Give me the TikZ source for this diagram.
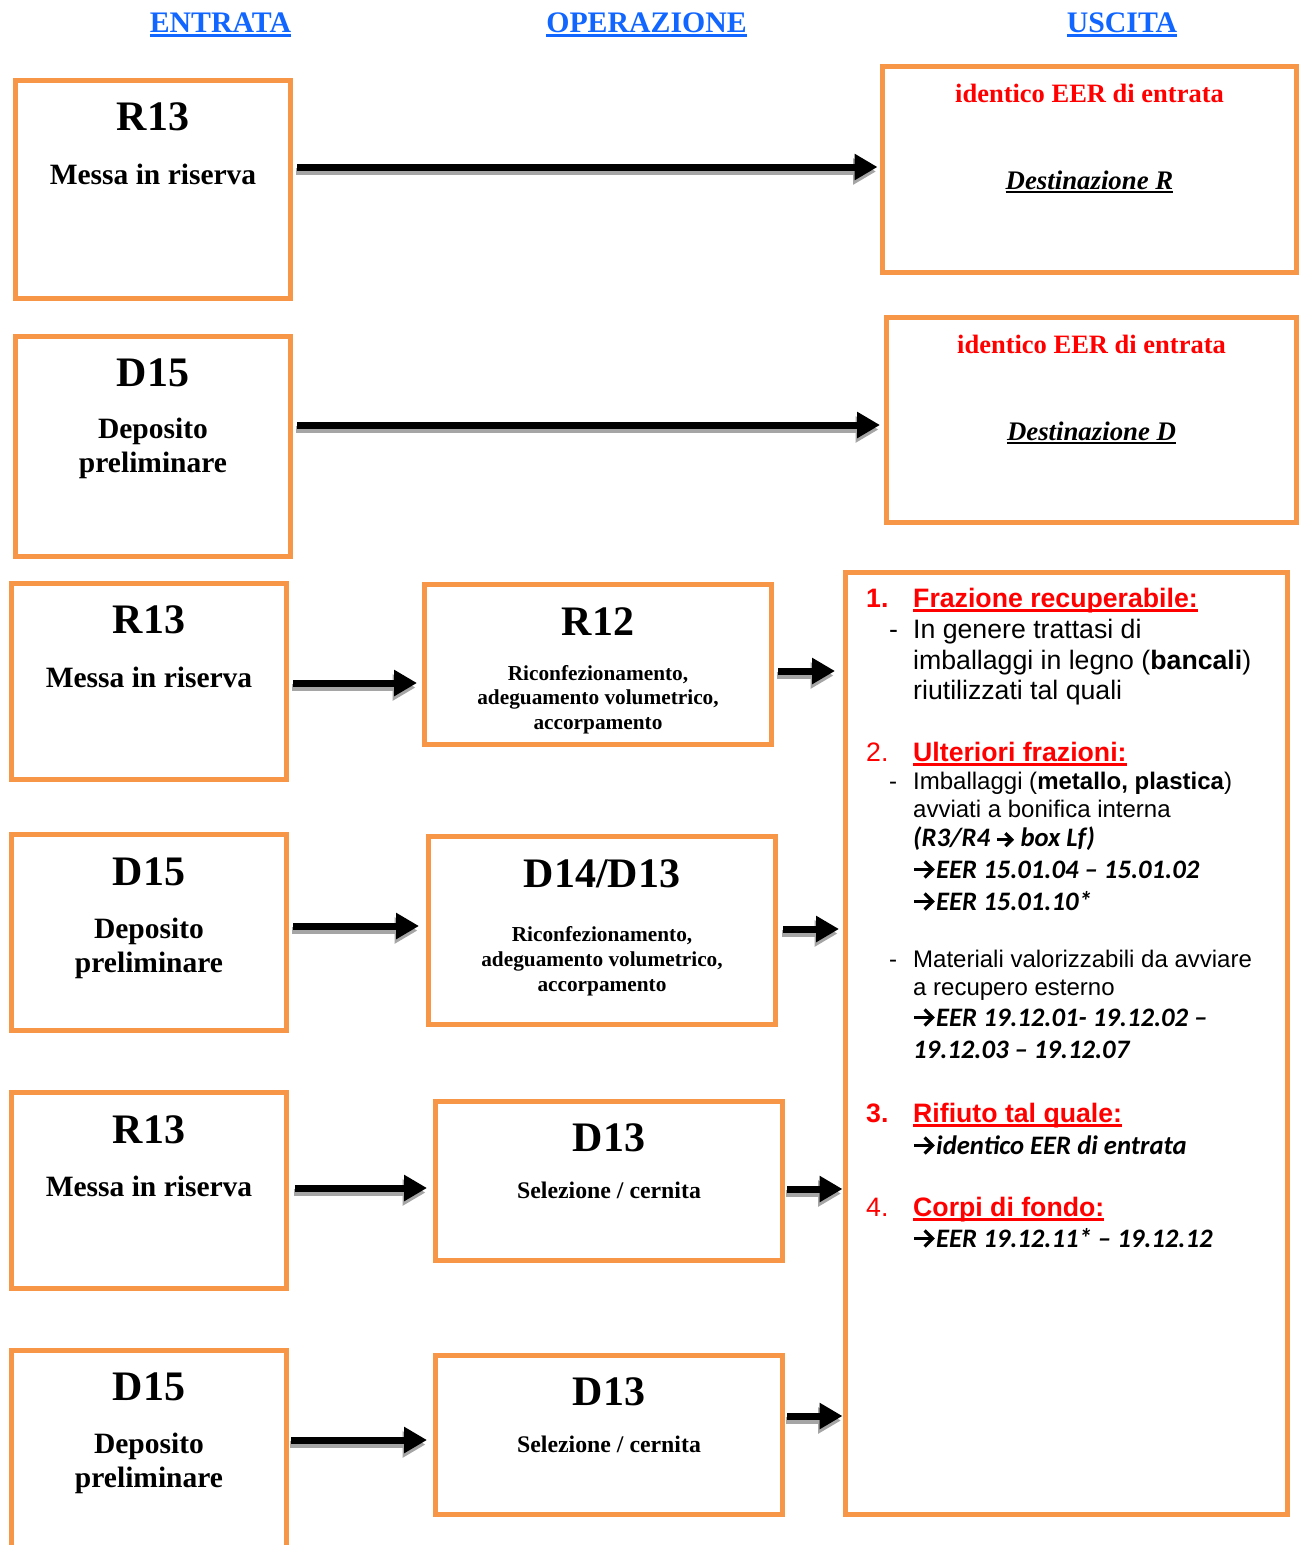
\documentclass[tikz,border=0pt]{standalone}
\usepackage{fontspec}
\setmainfont{Liberation Serif}
\newfontfamily\arialfont{Liberation Sans}
\newfontfamily\carlitofont{Carlito}
\usetikzlibrary{arrows.meta,calc}

\definecolor{boxorange}{RGB}{247,150,70}
\definecolor{headblue}{RGB}{17,102,255}
\definecolor{shadowgray}{RGB}{165,165,165}
\definecolor{listred}{RGB}{255,0,0}

% text with a rule under it: #1 = drop below baseline, #2 = thickness
\newcommand\ulrule[3]{\leavevmode\setbox0\hbox{#3}\rlap{\copy0}\rule[-#1]{\wd0}{#2}}

% bold inline arrow used in the code lists (optional scale)
\newcommand\rarr[1][1]{\tikz[baseline=0pt, x=1pt, y=1pt, scale=#1]{%
  \useasboundingbox (0,0) rectangle (23,17);
  \draw[line width=3.2pt] (1,8.5) -- (19,8.5);
  \draw[line width=3.2pt, miter limit=10] (11.5,16.5) -- (19.5,8.5) -- (11.5,0.5);}}

% thick block arrow with a grey drop shadow
\newcommand\blockarrow[2]{%
  \draw[arrowshadow] #1 -- #2;
  \draw[arrowbody] #1 -- #2;}

\tikzset{
  obox/.style={draw=boxorange, line width=5pt, inner sep=0pt},
  arrowbody/.style={line width=7pt, draw=black, -{Triangle[length=23pt,width=25pt]}},
  arrowshadow/.style={arrowbody, draw=shadowgray, fill=shadowgray,
    transform canvas={shift={(-1.5pt,-4.5pt)}}},
  txt/.style={inner sep=0pt, anchor=base},
  head/.style={txt, font=\fontsize{29.8}{34}\selectfont\bfseries, text=headblue},
  code/.style={txt, font=\fontsize{42}{46}\selectfont\bfseries},
  desc/.style={txt, font=\fontsize{29.5}{34}\selectfont\bfseries},
  small/.style={txt, font=\fontsize{21.3}{25}\selectfont\bfseries},
  sel/.style={txt, font=\fontsize{23.8}{28}\selectfont\bfseries},
  outred/.style={txt, font=\fontsize{26.5}{30}\selectfont\bfseries, text=listred},
  dest/.style={txt, font=\fontsize{26.8}{30}\selectfont\bfseries\itshape},
  list/.style={inner sep=0pt, anchor=base west, font=\arialfont\fontsize{26.67}{30}\selectfont},
  listsm/.style={inner sep=0pt, anchor=base west, font=\arialfont\fontsize{24}{27}\selectfont},
  listnum/.style={list, text=listred},
  listhead/.style={list, text=listred, font=\arialfont\fontsize{26.67}{30}\selectfont\bfseries},
  eer/.style={inner sep=0pt, anchor=base west, font=\carlitofont\fontsize{26.67}{30}\selectfont\bfseries\itshape},
}

\begin{document}
\begin{tikzpicture}[x=1pt,y=-1pt]
\useasboundingbox (0,0) rectangle (1301,1545);
\clip (0,0) rectangle (1301,1545);

% column headings
\node[head] (hIn)  at (220.5,32) {\ulrule{5pt}{2.8pt}{ENTRATA}};
\node[head] (hOp)  at (646.5,32) {\ulrule{5pt}{2.8pt}{OPERAZIONE}};
\node[head] (hOut) at (1122,32)  {\ulrule{5pt}{2.8pt}{USCITA}};

% input boxes
\node[obox, minimum width=275pt, minimum height=218pt] (L1) at (153,189.5) {};
\node[obox, minimum width=275pt, minimum height=220pt] (L2) at (153,446.5) {};
\node[obox, minimum width=275pt, minimum height=196pt] (L3) at (149,681.5) {};
\node[obox, minimum width=275pt, minimum height=196pt] (L4) at (149,932.5) {};
\node[obox, minimum width=275pt, minimum height=196pt] (L5) at (149,1190.5) {};
\node[obox, minimum width=275pt, minimum height=300pt] (L6) at (149,1500.5) {};

% operation boxes
\node[obox, minimum width=347pt, minimum height=160pt] (M3) at (598,664.5) {};
\node[obox, minimum width=347pt, minimum height=188pt] (M4) at (602,930.5) {};
\node[obox, minimum width=347pt, minimum height=159pt] (M5) at (609,1181) {};
\node[obox, minimum width=347pt, minimum height=159pt] (M6) at (609,1435) {};

% output boxes
\node[obox, minimum width=414pt, minimum height=206pt] (R1) at (1089.5,169.5) {};
\node[obox, minimum width=410pt, minimum height=205pt] (R2) at (1091.5,420) {};
\node[obox, minimum width=442pt, minimum height=942pt] (OUT) at (1066.5,1043.5) {};

% input texts
\node[code] (L1a) at (153,130) {R13};
\node[desc] (L1b) at (153,184) {Messa in riserva};
\node[code] (L2a) at (153,386) {D15};
\node[desc] (L2b) at (153,438) {Deposito};
\node[desc] (L2c) at (153,472) {preliminare};
\node[code] (L3a) at (149,633) {R13};
\node[desc] (L3b) at (149,687) {Messa in riserva};
\node[code] (L4a) at (149,885) {D15};
\node[desc] (L4b) at (149,938) {Deposito};
\node[desc] (L4c) at (149,972) {preliminare};
\node[code] (L5a) at (149,1143) {R13};
\node[desc] (L5b) at (149,1196) {Messa in riserva};
\node[code] (L6a) at (149,1400) {D15};
\node[desc] (L6b) at (149,1453) {Deposito};
\node[desc] (L6c) at (149,1487) {preliminare};

% operation texts
\node[code]  (M3a) at (598,635) {R12};
\node[small] (M3b) at (598,680) {Riconfezionamento,};
\node[small] (M3c) at (598,704) {adeguamento volumetrico,};
\node[small] (M3d) at (598,729) {accorpamento};
\node[code]  (M4a) at (602,887) {D14/D13};
\node[small] (M4b) at (602,941) {Riconfezionamento,};
\node[small] (M4c) at (602,966) {adeguamento volumetrico,};
\node[small] (M4d) at (602,991) {accorpamento};
\node[code]  (M5a) at (609,1151) {D13};
\node[sel]   (M5b) at (609,1198) {Selezione / cernita};
\node[code]  (M6a) at (609,1405) {D13};
\node[sel]   (M6b) at (609,1452) {Selezione / cernita};

% output texts
\node[outred] (R1a) at (1089.5,102) {identico EER di entrata};
\node[dest]   (R1b) at (1089.5,189) {\ulrule{4pt}{2.2pt}{Destinazione R}};
\node[outred] (R2a) at (1091.5,353) {identico EER di entrata};
\node[dest]   (R2b) at (1091.5,440) {\ulrule{4pt}{2.2pt}{Destinazione D}};

% output list
\node[listhead] (n1)  at (866,607.5) {1.};
\node[listhead] (h1)  at (913,607.5) {\ulrule{4pt}{2.5pt}{Frazione recuperabile:}};
\node[list]     (d1)  at (889,638.5) {-};
\node[list]     (l1a) at (913,638.5) {In genere trattasi di};
\node[list]     (l1b) at (913,669.5) {imballaggi in legno (\textbf{bancali})};
\node[list]     (l1c) at (913,699.5) {riutilizzati tal quali};

\node[listnum]  (n2)  at (866,761.5) {2.};
\node[listhead] (h2)  at (913,761.5) {\ulrule{4pt}{2.5pt}{Ulteriori frazioni:}};
\node[listsm]   (d2)  at (889,789.5) {-};
\node[listsm]   (l2a) at (913,789.5) {Imballaggi (\textbf{metallo, plastica})};
\node[listsm]   (l2b) at (913,817)   {avviati a bonifica interna};
\node[eer]      (l2c) at (913,846.5) {(R3/R4 \rarr[0.8] box Lf)};
\node[eer]      (l2d) at (913,878)   {\rarr EER 15.01.04 – 15.01.02};
\node[eer]      (l2e) at (913,910)   {\rarr EER 15.01.10*};
\node[listsm]   (d3)  at (889,967)   {-};
\node[listsm]   (l2f) at (913,967)   {Materiali valorizzabili da avviare};
\node[listsm]   (l2g) at (913,995)   {a recupero esterno};
\node[eer]      (l2h) at (913,1026)  {\rarr EER 19.12.01- 19.12.02 –};
\node[eer]      (l2i) at (913,1058)  {19.12.03 – 19.12.07};

\node[listhead] (n3)  at (866,1122.5) {3.};
\node[listhead] (h3)  at (913,1122.5) {\ulrule{4pt}{2.5pt}{Rifiuto tal quale:}};
\node[eer]      (l3)  at (913,1154)   {\rarr identico EER di entrata};

\node[listnum]  (n4)  at (866,1216.5) {4.};
\node[listhead] (h4)  at (913,1216.5) {\ulrule{4pt}{2.5pt}{Corpi di fondo:}};
\node[eer]      (l4)  at (913,1247)   {\rarr EER 19.12.11* – 19.12.12};

% connectors
\blockarrow{($(L1.east |- 0,167)+(4,0)$)}{($(R1.west |- 0,167)+(-2.5,0)$)}
\blockarrow{($(L2.east |- 0,425)+(4,0)$)}{($(R2.west |- 0,425)+(-4,0)$)}
\blockarrow{($(L3.east |- 0,683)+(4,0)$)}{($(M3.west |- 0,683)+(-5,0)$)}
\blockarrow{($(L4.east |- 0,926)+(4,0)$)}{($(M4.west |- 0,926)+(-7,0)$)}
\blockarrow{($(L5.east |- 0,1188)+(6,0)$)}{($(M5.west |- 0,1188)+(-6,0)$)}
\blockarrow{($(L6.east |- 0,1440)+(2,0)$)}{($(M6.west |- 0,1440)+(-6,0)$)}
\blockarrow{($(M3.east |- 0,671)+(4,0)$)}{($(OUT.west |- 0,671)+(-8,0)$)}
\blockarrow{($(M4.east |- 0,929)+(5,0)$)}{($(OUT.west |- 0,929)+(-4,0)$)}
\blockarrow{($(M5.east |- 0,1189)+(2,0)$)}{($(OUT.west |- 0,1189)+(-0.5,0)$)}
\blockarrow{($(M6.east |- 0,1416)+(2,0)$)}{($(OUT.west |- 0,1416)+(-0.5,0)$)}
\end{tikzpicture}
\end{document}
